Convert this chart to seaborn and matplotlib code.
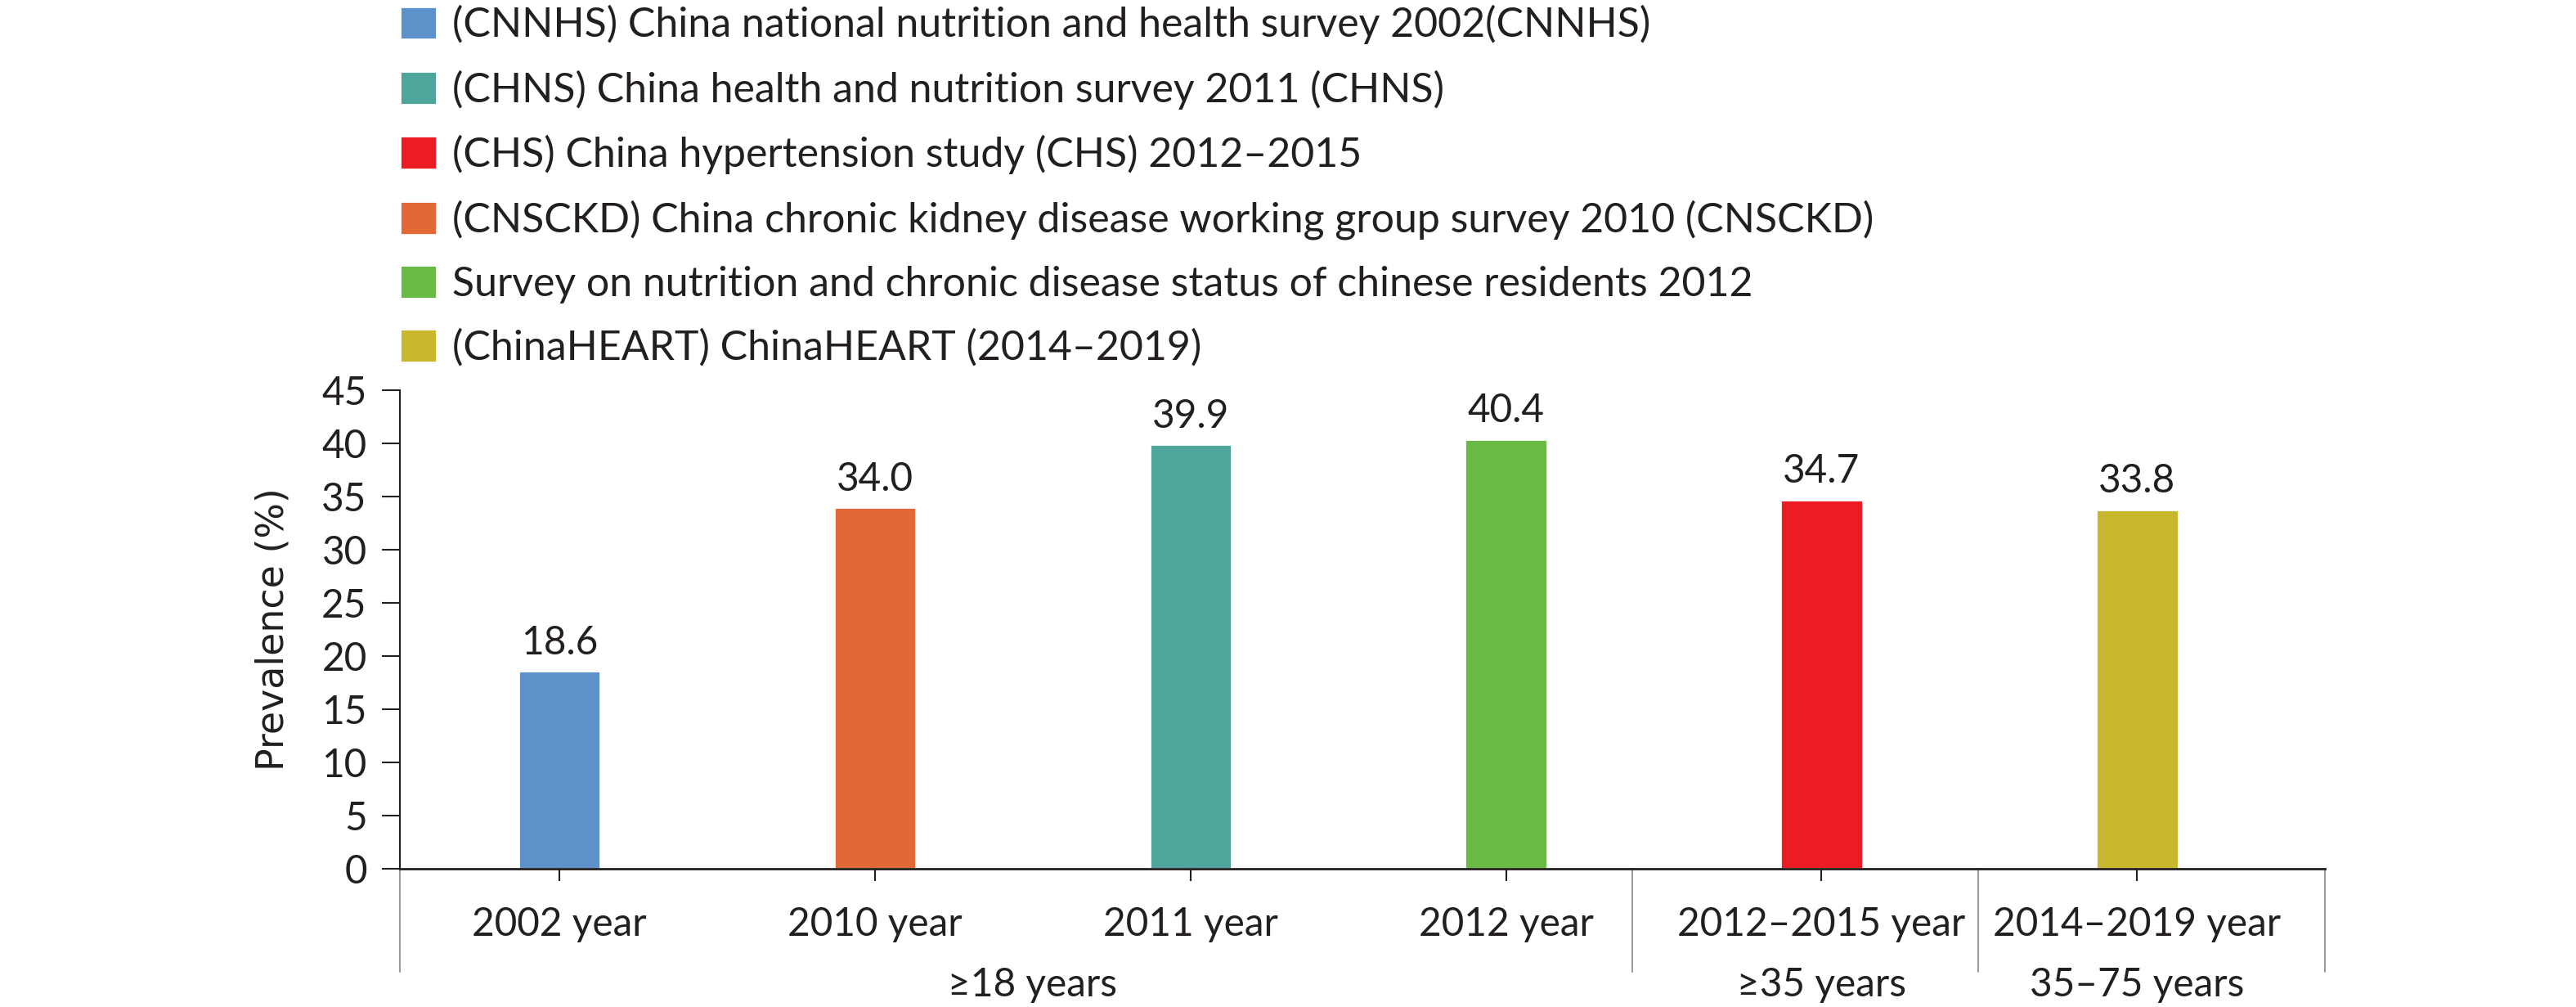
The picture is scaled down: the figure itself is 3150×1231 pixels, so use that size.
import pandas as pd
import seaborn as sns
import matplotlib.pyplot as plt
import matplotlib.transforms as mtransforms

# ----- data -----
years = ["2002 year", "2010 year", "2011 year", "2012 year",
         "2012\u20132015 year", "2014\u20132019 year"]
prevalence = [18.6, 34.0, 39.9, 40.4, 34.7, 33.8]
surveys = [
    "(CNNHS) China national nutrition and health survey 2002(CNNHS)",
    "(CNSCKD) China chronic kidney disease working group survey 2010 (CNSCKD)",
    "(CHNS) China health and nutrition survey 2011 (CHNS)",
    "Survey on nutrition and chronic disease status of chinese residents 2012",
    "(CHS) China hypertension study (CHS) 2012\u20132015",
    "(ChinaHEART) ChinaHEART (2014\u20132019)",
]
colors = ["#5D91CA", "#E26835", "#4FA49C", "#6ABB45", "#ED1C24", "#C9B72E"]
legend_order = [surveys[i] for i in [0, 2, 4, 1, 3, 5]]
age_groups = ["\u226518 years", "\u226535 years", "35\u201375 years"]
group_members = [[0, 1, 2, 3], [4], [5]]
separators = [-0.505, 3.40, 4.495, 5.595]

df = pd.DataFrame({"year": years, "prevalence": prevalence, "survey": surveys})

sns.set_style("white")
plt.rcParams["font.family"] = ["Lato", "DejaVu Sans"]
ink = "#231F20"
fs = 17.2
fs_leg = 18.0

fig = plt.figure(figsize=(15.75, 6.155), dpi=200)
ax = fig.add_axes([489 / 3150, 1 - 1062 / 1231, (2843 - 489) / 3150, (1062 - 477) / 1231])

sns.barplot(data=df, x="year", y="prevalence", hue="survey", hue_order=legend_order,
            palette=dict(zip(surveys, colors)), dodge=False, width=0.26,
            saturation=1, ax=ax)

for c in ax.containers:
    ax.bar_label(c, fmt="%.1f", padding=4.5, fontsize=fs, color=ink)

ax.set_ylim(0, 45)
ax.set_yticks(range(0, 46, 5))
ax.set_xlim(separators[0], separators[-1])
ax.set_xlabel("")
ax.set_ylabel("Prevalence (%)", fontsize=16.5, color=ink, family="DejaVu Sans", va="center")
ax.yaxis.set_label_coords(-0.066, 0.5)

for s in ["top", "right"]:
    ax.spines[s].set_visible(False)
ax.spines["left"].set_linewidth(0.75)
ax.spines["left"].set_color(ink)
ax.spines["bottom"].set_linewidth(1.0)
ax.spines["bottom"].set_color(ink)

ax.tick_params(axis="y", direction="out", length=8, width=0.75, pad=6.5,
               labelsize=fs, colors=ink, left=True)
ax.tick_params(axis="x", direction="out", length=5.5, width=0.75, pad=11,
               labelsize=fs, colors=ink, bottom=True)

# group separators below the axis
trans = mtransforms.blended_transform_factory(ax.transData, ax.transAxes)
for xs in separators:
    ax.plot([xs, xs], [0, -0.216], transform=trans, color="#999999",
            lw=0.7, clip_on=False, zorder=0)

# age group labels
for name, members in zip(age_groups, group_members):
    xc = sum(members) / len(members)
    ax.text(xc, -0.205, name, transform=trans, ha="center", va="top",
            fontsize=fs, color=ink)

handles, labels = ax.get_legend_handles_labels()
ax.legend(handles, labels, loc="upper left", bbox_to_anchor=(489 / 3150, 1 - 6 / 1231),
          bbox_transform=fig.transFigure, frameon=False, fontsize=fs_leg,
          handlelength=0.9, handleheight=0.88, handletextpad=0.38,
          labelspacing=0.625, borderpad=0, borderaxespad=0, labelcolor=ink)

fig.savefig("out.png", dpi=200, facecolor="white")
